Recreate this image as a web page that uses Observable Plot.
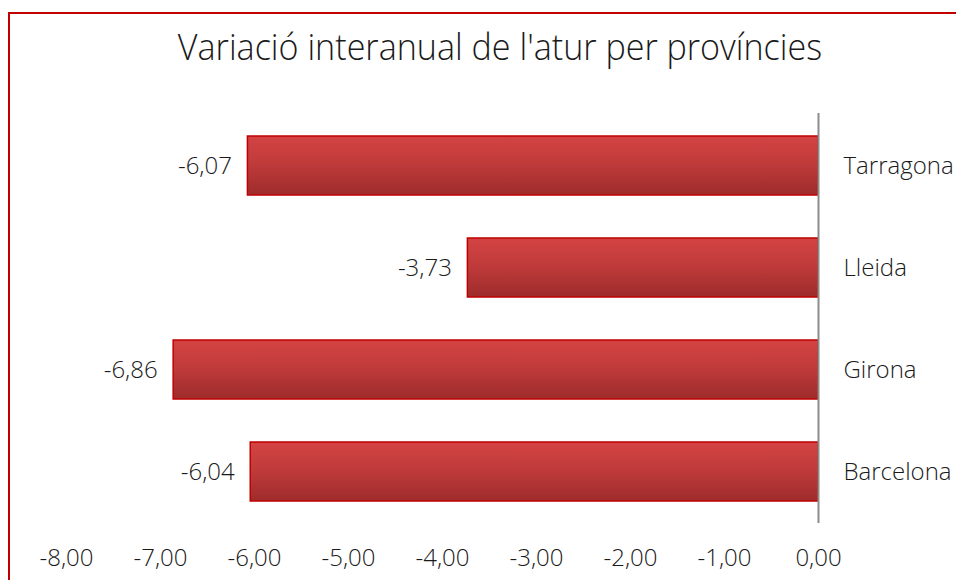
<!DOCTYPE html>
<html>
<head>
<meta charset="utf-8">
<script src="https://cdn.jsdelivr.net/npm/d3@7"></script>
<script src="https://cdn.jsdelivr.net/npm/@observablehq/plot@0.6"></script>
<style>
  html, body { margin: 0; padding: 0; background: #fff; }
  #wrap { position: relative; width: 956px; height: 580px; overflow: hidden; font-family: "Open Sans", sans-serif; font-weight: 300; }
  #frame { position: absolute; left: 8px; top: 12px; width: 1000px; height: 1000px; border: 2px solid #c00000; box-sizing: border-box; }
  #title { position: absolute; left: 0; top: 22px; width: 1000px; text-align: center; font-size: 36px; color: #1a1a1a; transform: scaleX(0.947); transform-origin: 500px 0; }
  #chart { position: absolute; left: 0; top: 0; }
  #chart svg text { font-weight: 300; }
</style>
</head>
<body>
<div id="wrap">
  <div id="frame"></div>
  <div id="title">Variació interanual de l'atur per províncies</div>
  <div id="chart"></div>
</div>
<script>
const provinces = ["Tarragona", "Lleida", "Girona", "Barcelona"];
const values = [-6.07, -3.73, -6.86, -6.04];
const tickValues = [-8, -7, -6, -5, -4, -3, -2, -1, 0];

const data = provinces.map((p, i) => ({province: p, value: values[i]}));
const fmt = v => v.toFixed(2).replace(".", ",");

const plot = Plot.plot({
  width: 956,
  height: 580,
  marginTop: 113,
  marginBottom: 57,
  marginLeft: 66,
  marginRight: 138,
  style: {fontFamily: "'Open Sans', sans-serif", fontSize: "24px", color: "#1a1a1a", background: "transparent", overflow: "visible"},
  x: {domain: [-8, 0], label: null},
  y: {domain: provinces, paddingInner: 0.424, paddingOuter: 0.212, label: null, axis: null},
  marks: [
    Plot.axisX({ticks: tickValues, tickFormat: fmt, tickSize: 0, tickPadding: 25, fontSize: 24, fill: "#1a1a1a", label: null}),
    Plot.barX(data, {
      x1: 0, x2: "value", y: "province",
      fill: "url(#barGrad)", stroke: "#c00000", strokeWidth: 1.5,
      style: {filter: "drop-shadow(2px 4px 3px rgba(0,0,0,0.35))"}
    }),
    Plot.ruleX([0], {stroke: "#8c8c8c", strokeWidth: 2}),
    Plot.text(data, {x: "value", y: "province", text: d => fmt(d.value), textAnchor: "end", dx: -16, fontSize: 24, fill: "#1a1a1a"}),
    Plot.text(data, {x: 0, y: "province", text: "province", textAnchor: "start", dx: 25, fontSize: 24, fill: "#1a1a1a"})
  ]
});

const ns = "http://www.w3.org/2000/svg";
const defs = document.createElementNS(ns, "defs");
const grad = document.createElementNS(ns, "linearGradient");
grad.setAttribute("id", "barGrad");
grad.setAttribute("x1", "0"); grad.setAttribute("y1", "0");
grad.setAttribute("x2", "0"); grad.setAttribute("y2", "1");
[["0%", "#d44343"], ["45%", "#c13b3b"], ["100%", "#9e2b2b"]].forEach(([o, c]) => {
  const s = document.createElementNS(ns, "stop");
  s.setAttribute("offset", o); s.setAttribute("stop-color", c);
  grad.appendChild(s);
});
defs.appendChild(grad);
plot.insertBefore(defs, plot.firstChild);
document.getElementById("chart").appendChild(plot);
</script>
</body>
</html>
